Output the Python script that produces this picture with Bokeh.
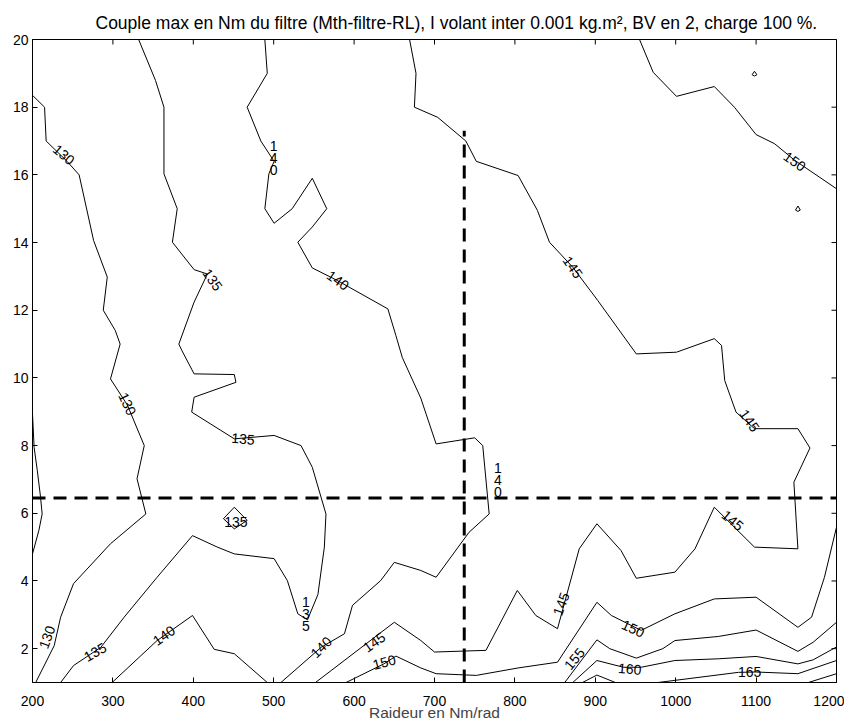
from bokeh.plotting import figure
from bokeh.models import FixedTicker
from bokeh.core.properties import value
from bokeh.embed import file_html
from bokeh.resources import INLINE

FONT = "Liberation Sans"
TITLE = "Couple max en Nm du filtre (Mth-filtre-RL), I volant inter 0.001 kg.m\u00b2, BV en 2, charge 100 %."
XLABEL = "Raideur en Nm/rad"
X_TICKS = [200, 300, 400, 500, 600, 700, 800, 900, 1000, 1100, 1200]
Y_TICKS = [2, 4, 6, 8, 10, 12, 14, 16, 18, 20]

# ---- contour lines (level 130) ----
c130a_x = [200, 215, 217, 243, 258, 276, 293, 288, 303, 309, 297, 318, 339, 330, 341, 297, 251, 235, 227, 204]
c130a_y = [18.35, 18.0, 17.0, 16.4, 16.0, 14.06, 12.98, 12.0, 11.4, 11.0, 9.97, 9.2, 8.0, 7.02, 5.98, 5.1, 3.92, 2.93, 2.09, 1.0]
c130b_x = [200, 208, 212, 210, 206, 202, 200]
c130b_y = [4.8, 5.5, 5.98, 6.48, 7.26, 7.95, 8.94]
# ---- level 135 ----
c135a_x = [332, 353, 363.5, 363.5, 380, 374, 401, 417.5, 401, 382, 386, 401, 451, 453, 401, 398, 451, 500.5, 534, 548,
           565, 563, 555, 542, 530, 517, 500.5, 451, 430, 399, 355, 314, 285, 251, 235]
c135a_y = [20, 18.79, 18.0, 16.03, 15.0, 14.01, 13.2, 13.07, 12.24, 11.0, 10.8, 10.12, 10.1, 9.87, 9.43, 8.99, 8.2, 8.3, 8.0, 7.36,
           5.98, 5.0, 3.6, 2.85, 3.03, 4.01, 4.66, 4.8, 5.0, 5.34, 4.11, 2.93, 2.04, 1.5, 1.0]
c135b_x = [451, 467, 451, 437.5, 451]
c135b_y = [6.18, 5.79, 5.54, 5.84, 6.18]
# ---- level 140 ----
c140a_x = [489, 492, 467, 484, 500.5, 494, 489, 500.5, 523, 548, 566, 548, 530, 548, 579, 642, 652, 660, 683, 702,
           750, 760, 768, 743, 702, 683, 650, 633, 598, 588, 559, 509]
c140a_y = [20, 19.0, 18.0, 17.0, 16.4, 16.03, 15.0, 14.57, 15.0, 15.9, 15.0, 14.46, 14.01, 13.25, 12.88, 12.04, 11.25, 10.6, 9.4, 8.05,
           8.23, 8.0, 5.98, 5.44, 4.11, 4.31, 4.55, 4.01, 3.28, 2.44, 2.04, 1.0]
c140b_x = [299, 355, 399, 426, 451, 492]
c140b_y = [1.0, 2.24, 2.98, 1.98, 1.85, 1.0]
# ---- level 145 ----
c145_x = [669, 677, 675, 704, 739, 752, 804, 828, 843, 872, 903, 951, 1001, 1048, 1057, 1061, 1075, 1098, 1152, 1167,
          1147, 1152, 1098, 1048, 1024, 999, 951, 932, 902, 880, 853, 826, 803, 764, 700, 683, 650, 552]
c145_y = [20, 19.0, 18.0, 17.7, 17.0, 16.4, 15.98, 14.95, 14.01, 13.27, 12.29, 10.71, 10.76, 11.16, 10.96, 9.92, 8.99, 8.5, 8.5, 7.93,
          6.92, 4.95, 5.0, 6.18, 4.95, 4.26, 4.08, 4.9, 5.69, 4.95, 2.59, 2.98, 3.72, 1.95, 1.9, 2.24, 2.78, 1.0]
# ---- level 150 ----
c150a_x = [955, 972, 1001, 1048, 1073, 1100, 1123, 1148, 1200]
c150a_y = [20, 19.03, 18.32, 18.61, 18.0, 17.19, 16.92, 16.43, 15.59]
c150b_x = [590, 637, 652, 683, 702, 752, 804, 853, 902, 920, 957, 999, 1048, 1100, 1152, 1169, 1185, 1200]
c150b_y = [1.0, 1.55, 1.78, 1.43, 1.26, 1.21, 1.43, 1.60, 3.37, 2.98, 2.54, 3.03, 3.47, 3.52, 2.63, 2.93, 4.11, 5.59]
# ---- level 155 ----
c155_x = [862, 902, 918, 951, 984, 999, 1053, 1100, 1152, 1171, 1200]
c155_y = [1.0, 2.26, 2.0, 1.72, 2.0, 2.24, 2.36, 2.55, 1.92, 2.19, 2.78]
# ---- level 160 ----
c160_x = [872, 902, 935, 957, 999, 1053, 1100, 1152, 1171, 1200]
c160_y = [1.0, 1.65, 1.45, 1.45, 1.65, 1.70, 1.77, 1.55, 1.67, 2.05]
# ---- level 165 ----
c165a_x = [884, 902, 925]
c165a_y = [1.0, 1.22, 1.0]
c165b_x = [978, 1078, 1100, 1152, 1200]
c165b_y = [1.0, 1.3, 1.31, 1.26, 1.65]
# ---- level 170 ----
c170_x = [1165, 1200]
c170_y = [1.0, 1.26]
# ---- tiny closed contours ----
t1_x = [1098, 1101, 1098, 1095, 1098]
t1_y = [19.06, 18.96, 18.92, 18.96, 19.06]
t2_x = [1152, 1155, 1152, 1149, 1152]
t2_y = [15.08, 14.96, 14.92, 14.96, 15.08]

CONTOURS_X = [c130a_x, c130b_x, c135a_x, c135b_x, c140a_x, c140b_x, c145_x, c150a_x, c150b_x,
              c155_x, c160_x, c165a_x, c165b_x, c170_x, t1_x, t2_x]
CONTOURS_Y = [c130a_y, c130b_y, c135a_y, c135b_y, c140a_y, c140b_y, c145_y, c150a_y, c150b_y,
              c155_y, c160_y, c165a_y, c165b_y, c170_y, t1_y, t2_y]

# ---- contour labels ----
LBL_X = [239, 318, 424, 500, 580, 872, 1148, 462, 453, 540, 218, 278, 363.5, 559, 625, 637.5, 779, 1092, 1071, 857.5, 947, 874, 943, 1092]
LBL_Y = [16.6, 9.23, 12.9, 16.5, 12.88, 13.27, 16.4, 8.2, 5.74, 3.03, 2.34, 1.9, 2.39, 2.04, 2.19, 1.6, 6.97, 8.74, 5.79, 3.32, 2.59, 1.7, 1.4, 1.3]
LBL_T = ["130", "130", "135", "1\n4\n0", "140", "145", "150", "135", "135", "1\n3\n5", "130", "135", "140", "140", "145", "150",
         "1\n4\n0", "145", "145", "145", "150", "155", "160", "165"]
LBL_A = [-40, -65, -55, 0, -35, -55, -35, -5, 0, 0, 70, 30, 35, 45, 35, 15, 0, -55, -40, 70, -25, 50, -5, 0]

# ---- reference dashed lines ----
VLINE_X = [737, 737]
VLINE_Y = [1, 17.3]
HLINE_X = [200, 1200]
HLINE_Y = [6.45, 6.45]

p = figure(frame_width=804, frame_height=643, x_range=(200, 1200), y_range=(1, 20),
           output_backend="svg", toolbar_location=None, title=TITLE,
           min_border_left=32, min_border_right=8, min_border_top=39, min_border_bottom=40)
p.background_fill_color = "white"
p.border_fill_color = "white"
p.outline_line_color = "black"
p.outline_line_width = 1
p.grid.visible = False

p.title.align = "left"
p.title.offset = 63
p.title.vertical_align = "middle"
p.title.text_font = FONT
p.title.text_font_size = "17.5px"
p.title.text_font_style = "normal"
p.title.text_color = "black"
p.title.standoff = 12

def style_axis(ax, ticks):
    ax.ticker = FixedTicker(ticks=ticks)
    ax.major_tick_in = 5
    ax.major_tick_out = 0
    ax.minor_tick_in = 0
    ax.minor_tick_out = 0
    ax.axis_line_color = "black"
    ax.major_tick_line_color = "black"
    ax.major_label_text_font = FONT
    ax.major_label_text_font_size = "14px"
    ax.major_label_text_color = "black"

style_axis(p.xaxis[0], X_TICKS)
style_axis(p.yaxis[0], Y_TICKS)
p.xaxis[0].major_label_standoff = 13
p.yaxis[0].major_label_standoff = 4
p.xaxis[0].axis_label = XLABEL
p.xaxis[0].axis_label_text_font = FONT
p.xaxis[0].axis_label_text_font_size = "15.5px"
p.xaxis[0].axis_label_text_font_style = "normal"
p.xaxis[0].axis_label_standoff = -5

# inward ticks on top and right edges (clipped to the frame, so only the inner half shows)
p.scatter(x=X_TICKS, y=[p.y_range.end] * len(X_TICKS), marker="dash", angle=90, angle_units="deg",
          size=10, line_color="black", line_width=1)
p.scatter(x=[p.x_range.end] * len(Y_TICKS), y=Y_TICKS, marker="dash",
          size=10, line_color="black", line_width=1)

p.multi_line(xs=CONTOURS_X, ys=CONTOURS_Y, line_color="black", line_width=1)

p.line(VLINE_X, VLINE_Y, line_color="black", line_width=3, line_dash="13 8")
p.line(HLINE_X, HLINE_Y, line_color="black", line_width=3, line_dash="13 8")

p.text(x=LBL_X, y=LBL_Y, text=LBL_T, angle=LBL_A, angle_units="deg",
       text_font=value(FONT), text_font_size="14px", text_color="black",
       text_align="center", text_baseline="middle", text_line_height=0.75)

open("out.html", "w").write(file_html(p, INLINE))
